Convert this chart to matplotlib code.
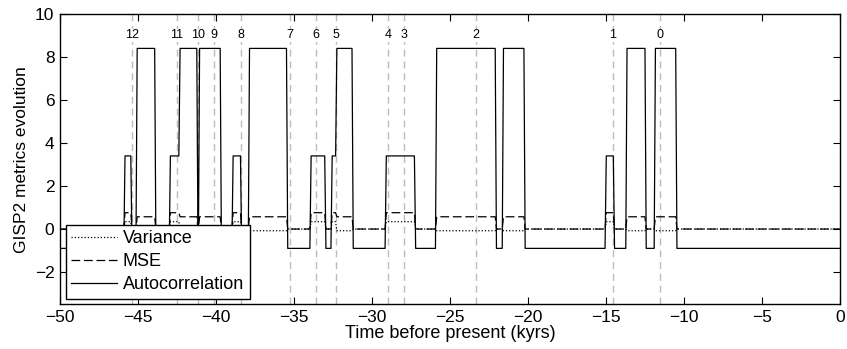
import matplotlib
matplotlib.use("Agg")
import matplotlib.pyplot as plt

plt.rcParams['font.family'] = ['Liberation Sans', 'DejaVu Sans']

# Regime segments of the GISP2 record (kyr before present)
seg_start = [-50.0, -45.83, -45.38, -45.05, -43.85, -42.92, -42.30, -41.15, -41.05,
             -39.65, -38.90, -38.35, -37.85, -35.40, -33.90, -32.95, -32.55, -32.25,
             -31.20, -29.08, -27.20, -25.85, -22.02, -21.57, -20.18, -14.98, -14.45,
             -13.65, -12.42, -11.83, -10.45]
seg_end = seg_start[1:] + [0.0]
regime = ['C', 'B', 'C', 'A', 'C', 'B', 'A', 'C', 'A',
          'C', 'B', 'C', 'A', 'C', 'B', 'C', 'B', 'A',
          'C', 'B', 'C', 'A', 'C', 'A', 'C', 'B', 'C',
          'A', 'C', 'A', 'C']

# Metric value in each regime
variance_level = {'A': -0.08, 'B': 0.34, 'C': 0.0}
mse_level = {'A': 0.57, 'B': 0.76, 'C': 0.0}
autocorr_level = {'A': 8.4, 'B': 3.4, 'C': -0.9}

# Dansgaard-Oeschger event onsets
event_labels = ['12', '11', '10', '9', '8', '7', '6', '5', '4', '3', '2', '1', '0']
event_times = [-45.40, -42.50, -41.15, -40.15, -38.40, -35.26, -33.57, -32.28,
               -28.99, -27.97, -23.35, -14.57, -11.52]

RAMP = 0.08  # sampling step between consecutive regimes


def trace(levels):
    xs, ys = [], []
    for i, (s, e, r) in enumerate(zip(seg_start, seg_end, regime)):
        end_flat = e - RAMP if i < len(regime) - 1 else e
        xs += [s, end_flat]
        ys += [levels[r], levels[r]]
    return xs, ys


fig = plt.figure(figsize=(8.47, 3.49), dpi=100)
ax = fig.add_axes([0.0708, 0.1281, 0.9209, 0.8318])

for t, lab in zip(event_times, event_labels):
    ax.axvline(t, color='#bcbcbc', lw=1.0, dashes=(5, 3.5), zorder=1)
    ax.text(t, 9.0, lab, ha='center', va='center', fontsize=9,
            bbox=dict(facecolor='white', edgecolor='none', pad=0.6), zorder=2)

xv, yv = trace(variance_level)
xm, ym = trace(mse_level)
xa, ya = trace(autocorr_level)
ax.plot(xv, yv, color='black', lw=0.9, dashes=(1.0, 1.6), label='Variance', zorder=3)
ax.plot(xm, ym, color='black', lw=0.9, dashes=(7, 3), label='MSE', zorder=3)
ax.plot(xa, ya, color='black', lw=0.9, label='Autocorrelation', zorder=4)

ax.set_xlim(-50, 0)
ax.set_ylim(-3.5, 10)
ax.set_xticks(range(-50, 1, 5))
ax.set_yticks(range(-2, 11, 2))
ax.tick_params(direction='in', top=True, right=True, length=5, width=0.8,
               labelsize=12.5, pad=4)
for sp in ax.spines.values():
    sp.set_linewidth(1.0)

ax.set_xlabel('Time before present (kyrs)', fontsize=13, labelpad=0)
ax.set_ylabel('GISP2 metrics evolution', fontsize=12.5, labelpad=4)

leg = ax.legend(loc='upper left', bbox_to_anchor=(0.0077, 0.273), borderaxespad=0,
                fontsize=13, fancybox=False, edgecolor='black', framealpha=1,
                handlelength=2.5, handletextpad=0.35, labelspacing=0.33,
                borderpad=0.3)
leg.get_frame().set_linewidth(1.0)
leg.set_zorder(10)

fig.savefig('out.png', dpi=100)
